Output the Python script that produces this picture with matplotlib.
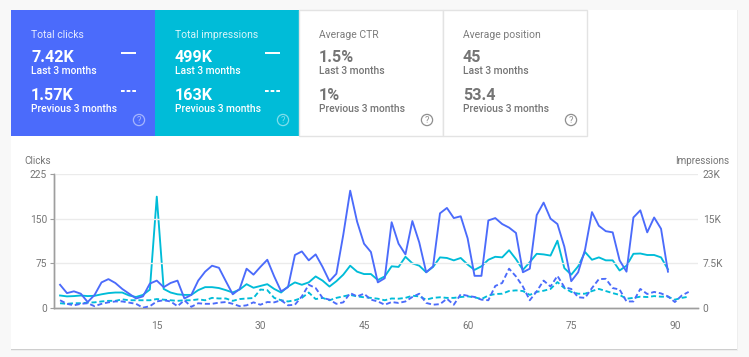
import matplotlib
matplotlib.use('Agg')
import matplotlib.pyplot as plt
from matplotlib.patches import Rectangle, Circle

plt.rcParams['font.family'] = ['Roboto', 'DejaVu Sans']

# Chart data
clicks_now = [39, 25, 28, 24, 10, 22, 43, 48.5, 42, 32, 24, 16, 19.5, 41, 46, 35, 42, 46, 16, 22,
              46, 61, 71, 67.5, 45, 23, 32, 66, 56, 69, 81, 53, 28, 35, 89, 95, 80, 90, 69, 45,
              57.5, 123, 197, 145, 108, 94, 43, 50, 144, 108, 90, 146, 110, 60, 70, 159, 168, 151, 154, 117,
              54, 54, 147, 151, 141, 135, 126, 60, 66, 156, 177, 150, 141, 103, 45, 60, 98, 161, 138, 129,
              127, 80, 61, 152, 164, 127, 152, 133, 61]
impressions_now = [2100, 1950, 2000, 2100, 2000, 2050, 2300, 2500, 2600, 2600, 2100, 1850, 2200, 3100, 18700, 3200, 2600, 2300, 2200, 2200,
                   3000, 3500, 3500, 3350, 3000, 2600, 3100, 4000, 3400, 3700, 4000, 3200, 2600, 3600, 4300, 3900, 4300, 5300, 4600, 3600,
                   4500, 5600, 7100, 6100, 5700, 5700, 4700, 5300, 7000, 6900, 8600, 7500, 7100, 6000, 6900, 8500, 8400, 8000, 8400, 7300,
                   6400, 7000, 8100, 8600, 8500, 9700, 8200, 6400, 7700, 9100, 9000, 8800, 11300, 6700, 5600, 7000, 9400, 8100, 8500, 8000,
                   8000, 6300, 7100, 9100, 9150, 8900, 8900, 8500, 6500]
clicks_prev = [13, 7, 4.5, 7, 8, 3, 7, 9.5, 11, 11, 9, 7, 0.5, 3, 11, 13, 11, 3, 13, 2,
               8, 7, 7, 9, 10, 7, 3, 4.5, 9.5, 5.5, 10, 9.5, 13, 4.5, 5.5, 19.5, 39, 33.5, 17, 14,
               7, 9.5, 25, 19.5, 24, 14, 11, 5.5, 10, 8.5, 11, 18.5, 24, 8.5, 5.5, 6.5, 15.5, 5.5, 23, 20.5,
               18.5, 14, 13, 37, 42, 66, 53, 36, 13, 28, 46, 36, 54, 35, 32, 18, 17, 33.5, 48.5, 49,
               33.5, 31, 11, 11, 32, 23.5, 27, 24.5, 19.5, 10, 21, 27]
impressions_prev = [800, 700, 800, 800, 900, 950, 1100, 1200, 1200, 1450, 1300, 1300, 1300, 1300, 1500, 1400, 1300, 1200, 1300, 1300,
                    1450, 1300, 1700, 1600, 1600, 1200, 1500, 1600, 1670, 3100, 3000, 1700, 1300, 1100, 1300, 1700, 2600, 1500, 1700, 1300,
                    1700, 1950, 2200, 1950, 1800, 1700, 1560, 1300, 1600, 1560, 1700, 2060, 1950, 1400, 1700, 1800, 1700, 1700, 1840, 1950,
                    1800, 1500, 2100, 2340, 2400, 2850, 2960, 2850, 2200, 2700, 2900, 3200, 4350, 3350, 2700, 2400, 2400, 2850, 3200, 2850,
                    2500, 2200, 1560, 1700, 1900, 1840, 2000, 1900, 1900, 1400, 1700, 1900]

click_ticks = [0, 75, 150, 225]
click_labels = ['0', '75', '150', '225']
impr_ticks = [0, 7500, 15000, 22500]
impr_labels = ['0', '7.5K', '15K', '23K']
day_ticks = [15, 30, 45, 60, 75, 90]

# Tiles: title, value now, value previous, fill colour
tile_titles = ['Total clicks', 'Total impressions', 'Average CTR', 'Average position']
tile_now = ['7.42K', '499K', '1.5%', '45']
tile_prev = ['1.57K', '163K', '1%', '53.4']

W, H = 749, 357
BLUE = '#4b6bfb'
TEAL = '#00bcd8'
GREY = '#757575'

fig = plt.figure(figsize=(W / 100, H / 100), dpi=100, facecolor='#f8f8f8')

# Page layer, in pixel coordinates
bg = fig.add_axes([0, 0, 1, 1])
bg.set_xlim(0, W)
bg.set_ylim(H, 0)
bg.axis('off')

for i, a in enumerate([0.04, 0.06, 0.08]):
    bg.add_patch(Rectangle((10.5 + i * 0.2, 9.5 + i * 0.4), 727 - i * 0.4, 341 - i * 0.5, fc='black', alpha=a, lw=0))
bg.add_patch(Rectangle((11, 10), 726, 339, fc='white', lw=0))

tile_x = [11, 155, 299, 443]
tile_w = [144, 144, 144, 143.5]
tile_fill = [BLUE, TEAL, 'white', 'white']
for x, w, fill, title, now, prev in zip(tile_x, tile_w, tile_fill, tile_titles, tile_now, tile_prev):
    dark = fill != 'white'
    if dark:
        bg.add_patch(Rectangle((x, 10), w, 126, fc=fill, lw=0))
    else:
        bg.add_patch(Rectangle((x, 10), w, 125.5, fc='white', ec='#e3e3e3', lw=1))
    fg = 'white' if dark else GREY
    tx = x + 20
    bg.text(tx, 34.5, title, color=fg, alpha=0.85 if dark else 0.95, fontsize=7.5, va='center')
    bg.text(tx, 57, now, color=fg, fontsize=11.6, fontweight='bold', va='center')
    bg.text(tx, 71.5, 'Last 3 months', color=fg, fontsize=7.4, fontweight='medium', va='center')
    bg.text(tx, 95, prev, color=fg, fontsize=11.6, fontweight='bold', va='center')
    bg.text(tx, 109.5, 'Previous 3 months', color=fg, fontsize=7.4, fontweight='medium', va='center')
    if dark:
        bg.plot([x + 110, x + 125], [53, 53], color='white', lw=1.4, solid_capstyle='butt')
        bg.plot([x + 110, x + 125], [91, 91], color='white', lw=1.4, dashes=(1.9, 1.0))
    icon = (1, 1, 1, 0.5) if dark else '#8f8f8f'
    bg.add_patch(Circle((x + 128, 120), 5.6, fc='none', ec=icon, lw=0.9))
    bg.text(x + 128, 120.3, '?', color=icon, fontsize=6.8, ha='center', va='center')

bg.text(24, 160.5, 'Clicks', color=GREY, fontsize=7.1, va='center')
bg.text(729, 160.5, 'Impressions', color=GREY, fontsize=7.1, va='center', ha='right')

# Plot area spans x 53-698, y 174-308 in pixels
ax = fig.add_axes([53.5 / W, 1 - 308 / H, 644.5 / W, 134 / H])
ax.patch.set_alpha(0)
ax2 = ax.twinx()

days_now = list(range(1, len(clicks_now) + 1))
days_prev = list(range(1, len(clicks_prev) + 1))

ax2.plot(days_now, impressions_now, color=TEAL, lw=1.35, zorder=3)
ax2.plot(days_prev, impressions_prev, color=TEAL, lw=1.35, dashes=(2.7, 1.5), zorder=3)
ax.set_zorder(ax2.get_zorder() + 1)
ax.plot(days_now, clicks_now, color=BLUE, lw=1.35, zorder=3)
ax.plot(days_prev, clicks_prev, color=BLUE, lw=1.35, dashes=(2.7, 1.5), zorder=3)

ax.set_xlim(0.05, 93.35)
ax.set_ylim(0, 225)
ax2.set_ylim(0, 22500)

ax.set_yticks(click_ticks, click_labels)
ax2.set_yticks(impr_ticks, impr_labels)
ax.set_xticks(day_ticks)
ax.grid(axis='y', color='#ebebeb', lw=1, zorder=0)
ax.set_axisbelow(True)

ax.tick_params(axis='y', length=3, width=0.8, color='#9e9e9e', labelcolor=GREY, labelsize=7.3, pad=1.5)
ax.tick_params(axis='x', length=0, labelcolor=GREY, labelsize=7.3, pad=9.5)
ax2.tick_params(axis='y', length=0, labelcolor=GREY, labelsize=7.3, pad=3.5)

for a in (ax, ax2):
    a.spines['top'].set_visible(False)
    a.spines['right'].set_visible(False)
    a.spines['left'].set_color('#9e9e9e')
    a.spines['bottom'].set_color('#9e9e9e')
    a.spines['left'].set_linewidth(1)
    a.spines['bottom'].set_linewidth(1)

fig.savefig('out.png', dpi=100, facecolor=fig.get_facecolor())
